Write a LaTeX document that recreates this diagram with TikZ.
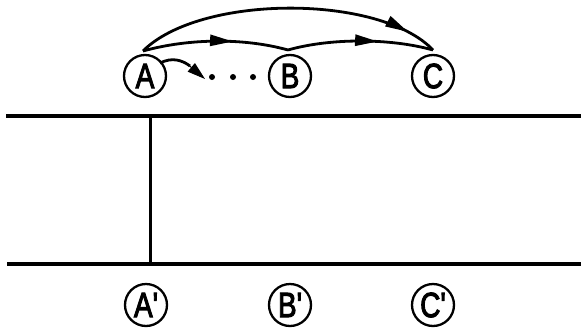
\documentclass[tikz,border=0pt]{standalone}
\usepackage{fontspec}
\newfontfamily\lbl{Liberation Sans}
\usetikzlibrary{arrows.meta,decorations.markings}
\tikzset{
  x=1pt, y=-1pt,
  state/.style={circle, draw, line width=2.3pt, minimum size=42pt, inner sep=0pt,
    font=\lbl\fontsize{35}{35}\selectfont},
  conn/.style={line width=2.8pt},
  midarrow/.style={postaction={decorate}, decoration={markings,
    mark=at position #1 with {\arrow{Triangle[length=23pt,width=11pt]}}}},
  wall/.style={line width=3.2pt},
  dotmark/.style={circle, fill, inner sep=0pt, minimum size=6pt}
}
\newcommand{\cnd}[1]{\scalebox{0.8}[1]{\special{pdf:literal 2 Tr 1.1 w}#1\special{pdf:literal 0 Tr}}}
\begin{document}
\begin{tikzpicture}
\useasboundingbox (0,0) rectangle (581,335);
% nodes
\node[state] (A) at (145,76) {\cnd{A}};
\node[state] (B) at (290,76) {\cnd{B}};
\node[state] (C) at (433,76) {\cnd{C}};
\node[state] (A2) at (146,305) {\cnd{A'}};
\node[state] (B2) at (290,305) {\cnd{B'}};
\node[state] (C2) at (433,305) {\cnd{C'}};
% convergence points
\coordinate (pa) at (143,51);
\coordinate (pb) at (288,50);
\coordinate (pc) at (433,50);
% arrows
\draw[conn, midarrow=0.9] (pa) .. controls (200,-6) and (380,-6) .. (pc);
\draw[conn, midarrow=0.62] (pa) .. controls (190,38) and (245,38) .. (pb);
\draw[conn, midarrow=0.62] (pb) .. controls (330,38) and (390,38) .. (pc);
\coordinate (sa) at (160,63);
\coordinate (st) at (205,79);
\draw[conn] (sa) .. controls (172,57) and (182,60) .. (190,66);
\draw[line width=1pt, -{Triangle[length=18pt,width=11pt]}] (185,62) -- (st);
% dots
\node[dotmark] (d1) at (212,77) {};
\node[dotmark] (d2) at (233,77) {};
\node[dotmark] (d3) at (253,77) {};
% walls
\coordinate (tl) at (6,116);
\coordinate (tr) at (581,116);
\coordinate (bl) at (7,264);
\coordinate (br) at (581,264);
\coordinate (vt) at (150,116);
\coordinate (vb) at (150,264);
\draw[wall] (tl) -- (tr);
\draw[wall] (bl) -- (br);
\draw[line width=3pt] (vt) -- (vb);
\end{tikzpicture}
\end{document}
